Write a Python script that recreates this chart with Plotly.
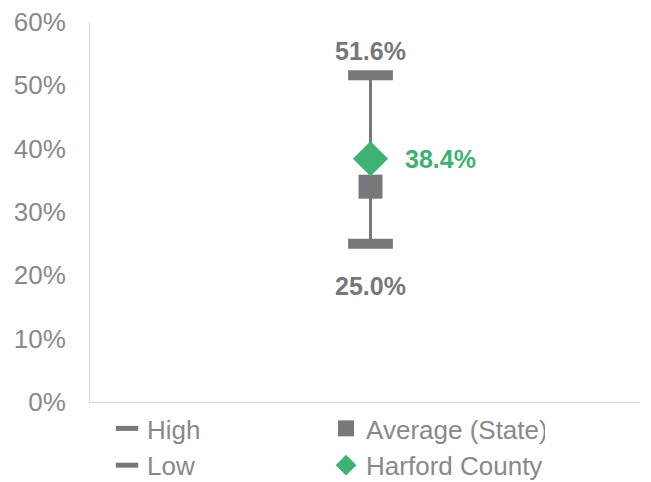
import plotly.graph_objects as go

category = ["Harford County"]
high = [51.6]
low = [25.0]
average_state = [34.0]
harford = [38.4]
y_ticks = [0, 10, 20, 30, 40, 50, 60]
y_tick_labels = [f"{v}%" for v in y_ticks]

GRAY = "#77787b"
GREEN = "#3cb371"
TEXT_GRAY = "#898989"
FONT = "Liberation Sans, Arial, sans-serif"

fig = go.Figure()

# range line low -> high
fig.add_trace(go.Scatter(
    x=category * 2, y=[low[0], high[0]], mode="lines",
    line=dict(color=GRAY, width=3), showlegend=False, hoverinfo="skip"))

fig.add_trace(go.Scatter(
    x=category, y=high, mode="markers", name="High",
    marker=dict(symbol="line-ew", size=32, color=GRAY,
                line=dict(color=GRAY, width=10))))
fig.add_trace(go.Scatter(
    x=category, y=average_state, mode="markers", name="Average (State)",
    marker=dict(symbol="square", size=24, color=GRAY)))
fig.add_trace(go.Scatter(
    x=category, y=low, mode="markers", name="Low",
    marker=dict(symbol="line-ew", size=32, color=GRAY,
                line=dict(color=GRAY, width=10))))
fig.add_trace(go.Scatter(
    x=category, y=harford, mode="markers", name="Harford County",
    marker=dict(symbol="diamond", size=27, color=GREEN)))

ann_font = dict(family=FONT, size=25, color=GRAY)
fig.add_annotation(x=category[0], y=high[0], text=f"<b>{high[0]:.1f}%</b>",
                   showarrow=False, yshift=24, font=ann_font)
fig.add_annotation(x=category[0], y=low[0], text=f"<b>{low[0]:.1f}%</b>",
                   showarrow=False, yshift=-42, font=ann_font)
fig.add_annotation(x=category[0], y=harford[0], text=f"<b>{harford[0]:.1f}%</b>",
                   showarrow=False, xanchor="left", xshift=32,
                   font=dict(family=FONT, size=25, color=GREEN))

fig.update_layout(
    width=643, height=474,
    margin=dict(l=82, r=11, t=14, b=80, autoexpand=False),
    paper_bgcolor="white", plot_bgcolor="white",
    font=dict(family=FONT, size=25, color=TEXT_GRAY),
    showlegend=True,
    legend=dict(orientation="h", x=0.031, xanchor="left",
                y=0.1625, yref="container", yanchor="top",
                entrywidth=174, font=dict(family=FONT, size=26, color=TEXT_GRAY),
                itemsizing="trace", tracegroupgap=0),
    xaxis=dict(type="category", range=[-0.51, 0.49], showticklabels=False,
               showgrid=False, zeroline=False, showline=True, automargin=False,
               linecolor="#d9d9d9", linewidth=1, ticks=""),
    yaxis=dict(range=[0, 60], tickvals=y_ticks, ticktext=y_tick_labels,
               showgrid=False, zeroline=False, showline=True, automargin=False,
               linecolor="#d9d9d9", linewidth=1, ticklabeloverflow="allow",
               ticks="outside", ticklen=18, tickcolor="rgba(0,0,0,0)",
               tickfont=dict(family=FONT, size=26, color=TEXT_GRAY)),
)

fig.write_html("out.html")
